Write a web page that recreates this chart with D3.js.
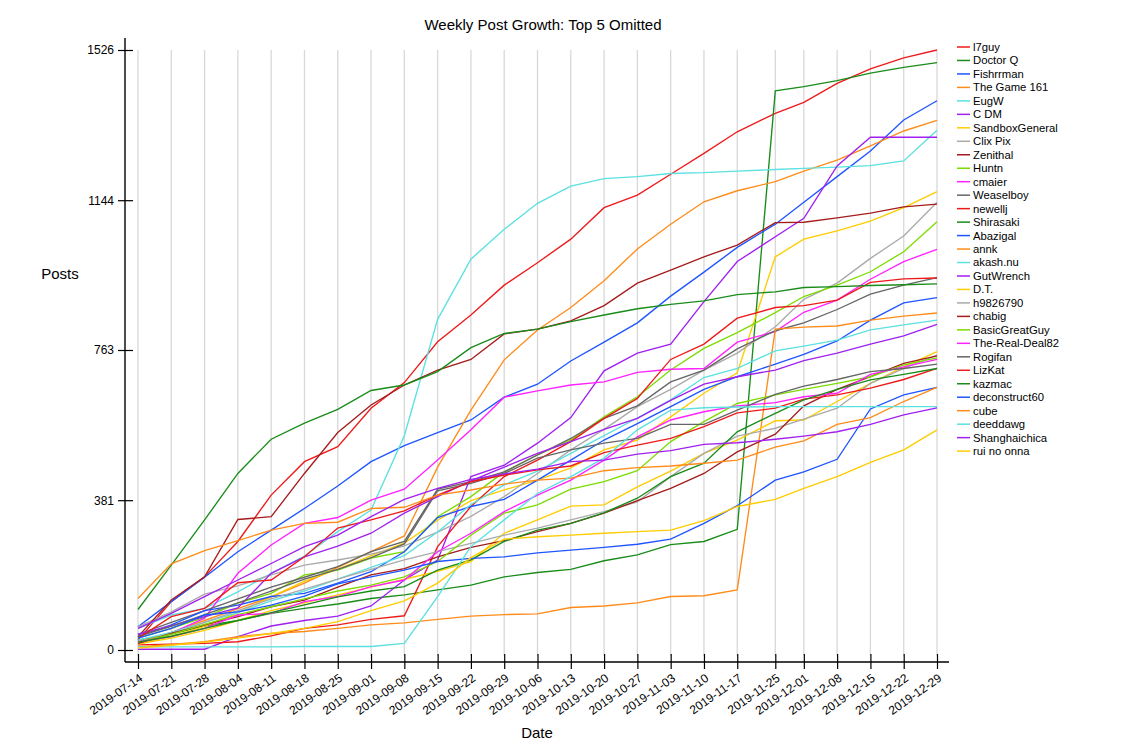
<!DOCTYPE html>
<html><head><meta charset="utf-8">
<script src="https://cdn.jsdelivr.net/npm/d3@7"></script>
<style>
body{margin:0;background:#fff;}
svg{font-family:"Liberation Sans",Arial,Helvetica,sans-serif;}
</style></head>
<body><svg id="c" width="1125" height="750"></svg>
<script>
const dates = ["2019-07-14","2019-07-21","2019-07-28","2019-08-04","2019-08-11","2019-08-18","2019-08-25","2019-09-01","2019-09-08","2019-09-15","2019-09-22","2019-09-29","2019-10-06","2019-10-13","2019-10-20","2019-10-27","2019-11-03","2019-11-10","2019-11-17","2019-11-25","2019-12-01","2019-12-08","2019-12-15","2019-12-22","2019-12-29"];
const yTicks = [0, 381, 763, 1144, 1526];
const names = ["l7guy","Doctor Q","Fishrrman","The Game 161","EugW","C DM","SandboxGeneral","Clix Pix","Zenithal","Huntn","cmaier","Weaselboy","newellj","Shirasaki","Abazigal","annk","akash.nu","GutWrench","D.T.","h9826790","chabig","BasicGreatGuy","The-Real-Deal82","Rogifan","LizKat","kazmac","deconstruct60","cube","deeddawg","Shanghaichica","rui no onna"];
const palette = ["#ee1a1a","#1a8c1a","#1f55ff","#ff8c1a","#5ce0e0","#a020f0","#ffcc00","#aaaaaa","#a51c1c","#7cdc00","#ff22ff","#666666"];

const l7guy = [25,123,186,276,394,479,517,615,680,784,852,928,985,1045,1125,1157,1210,1263,1318,1365,1393,1441,1478,1506,1526];
const doctorQ = [25,41,61,75,93,106,117,131,140,153,165,186,197,205,227,242,268,276,307,1422,1433,1448,1467,1482,1494];
const fishrrman = [59,123,185,250,305,360,417,479,520,553,585,643,676,735,783,832,900,961,1024,1083,1139,1204,1269,1348,1397];
const theGame161 = [20,45,75,105,135,170,210,250,290,465,610,738,814,871,939,1020,1083,1140,1168,1191,1218,1246,1282,1320,1347];
const eugW = [55,89,106,148,195,239,301,356,545,841,994,1070,1136,1180,1199,1204,1212,1214,1218,1222,1225,1228,1232,1244,1322];
const cDM = [2,2,2,34,61,75,86,112,178,229,441,470,526,591,710,755,778,886,988,1051,1098,1231,1304,1304,1304];
const sandboxGeneral = [15,35,60,95,135,175,205,240,272,330,380,407,432,463,509,534,593,653,705,1000,1045,1066,1091,1125,1166];
const clixPix = [59,97,142,163,191,216,229,244,265,300,340,390,449,509,561,619,663,712,755,822,892,933,996,1053,1139];
const zenithal = [34,127,186,332,339,449,553,623,674,712,739,804,816,837,876,933,966,1000,1030,1087,1088,1099,1111,1127,1134];
const huntn = [30,55,83,119,144,191,203,234,250,339,390,453,496,534,593,644,712,767,807,858,899,928,962,1013,1089];
const cmaier = [17,43,81,195,267,322,337,381,409,483,560,643,659,674,682,706,714,716,783,810,859,890,943,988,1019];
const weaselboy = [40,70,100,130,160,185,212,250,276,409,428,453,496,538,589,621,682,712,766,812,832,866,905,928,947];
const newellj = [13,15,17,21,36,55,64,78,87,263,365,441,483,530,589,640,739,778,844,871,876,890,935,944,946];
const shirasaki = [103,216,331,449,536,577,612,660,674,708,769,805,816,835,852,868,879,888,904,911,922,924,927,929,931];
const abazigal = [34,64,100,114,136,144,170,199,250,337,365,383,432,483,534,576,619,663,695,727,752,786,839,883,896];
const annk = [8,14,21,34,42,47,55,64,69,78,86,90,92,108,112,120,136,138,153,816,821,824,839,849,857];
const akashNu = [25,45,70,95,125,150,180,210,240,300,370,420,455,500,545,590,636,693,716,761,773,788,814,827,839];
const gutWrench = [40,62,85,107,195,237,264,297,348,390,430,465,500,530,561,589,635,676,695,712,736,755,778,799,828];
const dT = [15,30,50,75,100,120,140,160,180,200,225,297,331,366,369,415,455,500,534,583,585,632,678,720,759];
const h9826790 = [20,40,70,100,130,155,180,205,229,250,271,292,310,331,352,377,441,500,544,564,587,615,678,716,750];
const chabig = [17,42,64,85,110,127,160,191,207,237,261,278,301,322,348,380,411,449,504,549,621,663,695,729,748];
const basicGreatGuy = [20,40,65,90,110,130,150,165,186,225,292,348,369,409,428,456,530,581,627,649,663,678,695,725,743];
const theRealDeal82 = [21,34,55,89,93,123,136,161,178,250,297,352,394,432,483,542,585,606,621,629,644,653,701,720,739];
const rogifan = [35,60,90,120,150,180,205,235,270,405,424,449,488,509,526,538,574,574,610,650,671,688,708,716,727];
const lizKat = [30,85,106,171,178,237,310,331,354,394,428,445,458,468,502,521,538,568,603,615,638,649,666,688,716];
const kazmac = [20,35,55,75,95,115,135,150,161,203,229,276,305,322,349,386,441,475,555,602,636,663,687,701,716];
const deconstruct60 = [30,55,89,97,114,137,168,186,203,225,233,237,247,254,261,269,282,322,367,432,453,485,613,649,668];
const cube = [131,219,253,278,305,322,325,360,363,394,407,422,432,437,456,464,468,475,483,516,532,574,591,632,668];
const deeddawg = [8,8,8,8,8,9,9,9,17,136,263,331,398,441,488,560,610,616,618,619,619,619,619,619,619];
const shanghaichica = [55,93,136,178,220,263,292,339,383,411,434,448,460,479,483,498,507,523,527,536,544,555,574,598,616];
const ruiNoOnna = [5,12,20,30,42,55,72,100,125,170,235,282,288,292,297,301,305,329,365,383,411,441,477,509,560];

const seriesValues = [l7guy,doctorQ,fishrrman,theGame161,eugW,cDM,sandboxGeneral,clixPix,zenithal,huntn,cmaier,weaselboy,newellj,shirasaki,abazigal,annk,akashNu,gutWrench,dT,h9826790,chabig,basicGreatGuy,theRealDeal82,rogifan,lizKat,kazmac,deconstruct60,cube,deeddawg,shanghaichica,ruiNoOnna];

const parse = d3.timeParse("%Y-%m-%d");
const fmt = d3.timeFormat("%Y-%m-%d");
const xDates = dates.map(parse);
const svg = d3.select("#c");

const x = d3.scaleTime().domain([xDates[0], xDates[xDates.length-1]]).range([138, 937]);
const y = d3.scaleLinear().domain([0, 1526]).range([650, 50]);

// gridlines
svg.append("g").selectAll("line").data(xDates).join("line")
  .attr("x1", d=>x(d)).attr("x2", d=>x(d))
  .attr("y1", 50).attr("y2", 656)
  .attr("stroke", "#d8d8d8").attr("stroke-width", 1.3);

// lines
const line = d3.line().x((d,i)=>x(xDates[i])).y(d=>y(d));
svg.append("g").selectAll("path").data(seriesValues).join("path")
  .attr("d", d=>line(d))
  .attr("fill","none")
  .attr("stroke",(d,i)=>palette[i%12])
  .attr("stroke-width",1.35);

// x axis
const xAxis = svg.append("g").attr("transform","translate(0,662)")
  .call(d3.axisBottom(x).tickValues(xDates).tickFormat(fmt).tickSizeOuter(0).tickSize(7));
xAxis.select(".domain").attr("d","M125,0H949").attr("stroke","#000").attr("stroke-width",1.4);
xAxis.selectAll(".tick line").attr("y1",-8).attr("y2",7).attr("stroke","#000").attr("stroke-width",1.2);
xAxis.selectAll(".tick text")
  .attr("font-size",12).attr("font-family","Liberation Sans, Arial, sans-serif").attr("fill","#000")
  .attr("text-anchor","end").attr("x",0).attr("y",0).attr("dy",0)
  .attr("transform","translate(5,18) rotate(-35)");

// y axis
const yAxis = svg.append("g").attr("transform","translate(125,0)")
  .call(d3.axisLeft(y).tickValues(yTicks).tickFormat(d3.format("d")).tickSizeOuter(0).tickSize(7));
yAxis.select(".domain").attr("d","M0,38V662").attr("stroke","#000").attr("stroke-width",1.4);
yAxis.selectAll(".tick line").attr("x1",-7).attr("x2",8).attr("stroke","#000").attr("stroke-width",1.2);
yAxis.selectAll(".tick text").attr("font-size",12).attr("font-family","Liberation Sans, Arial, sans-serif").attr("fill","#000").attr("x",-11);

// titles
svg.append("text").attr("x",543).attr("y",30).attr("text-anchor","middle").attr("font-size",15).text("Weekly Post Growth: Top 5 Omitted");
svg.append("text").attr("x",60).attr("y",279).attr("text-anchor","middle").attr("font-size",15).text("Posts");
svg.append("text").attr("x",537).attr("y",738).attr("text-anchor","middle").attr("font-size",15).text("Date");

// legend
const lg = svg.append("g").selectAll("g").data(names).join("g")
  .attr("transform",(d,i)=>`translate(957,${47+i*13.47})`);
lg.append("line").attr("x1",0).attr("x2",13).attr("y1",0).attr("y2",0)
  .attr("stroke",(d,i)=>palette[i%12]).attr("stroke-width",1.5);
lg.append("text").attr("x",16).attr("y",0).attr("dy","0.35em").attr("font-size",11.3).text(d=>d);
</script></body></html>
